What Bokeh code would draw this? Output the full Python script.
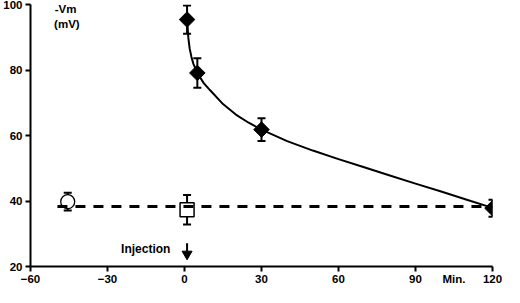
from bokeh.plotting import figure
from bokeh.models import Range1d, FixedTicker, Label, LinearAxis
from bokeh.embed import file_html
from bokeh.resources import INLINE
import math

# ---- data ----
x_ticks = [-60, -30, 0, 30, 60, 90, 120]
y_ticks = [20, 40, 60, 80, 100]
x_unit_pos = 105
x_unit_text = "Min."

# filled diamonds (treated), mean and error
treat_t = [1, 5, 30, 120]
treat_v = [95.4, 79.1, 61.8, 37.8]
treat_err = [4.3, 4.5, 3.5, 2.6]

# fitted decay curve
curve_t = [1, 1.5, 2, 2.7, 3.5, 5, 7.5, 10, 15, 20, 25, 30, 40, 50, 60, 70, 80, 90, 100, 110, 120]
curve_v = [95.4, 89.8, 86.6, 84.0, 81.8, 79.1, 76.0, 73.8, 69.6, 66.4, 63.9, 61.8, 58.3, 55.4, 52.8, 50.3, 47.8, 45.3, 42.9, 40.4, 37.9]

# open circle (pre-injection control)
circ_t = [-45.5]
circ_v = [39.8]
circ_err = [2.7]

# open square (control at injection)
sq_t = [1]
sq_v = [37.3]
sq_err = [4.5]

# dashed baseline
base_t = [-49.5, 120]
base_v = [38.3, 38.3]

# injection arrow
inj_t = [1]
arrow_top = [27.1]
arrow_bottom = [24.6]
arrow_head = [23.8]

FONT = "Liberation Sans"

p = figure(width=504, height=287, x_range=Range1d(-60, 120), y_range=Range1d(20, 100),
           output_backend="svg", toolbar_location=None,
           min_border_top=4, min_border_right=12, min_border_left=0, min_border_bottom=0)
p.outline_line_color = None
p.grid.visible = False
p.background_fill_color = "white"
p.border_fill_color = "white"

def style(ax):
    ax.axis_line_width = 2
    ax.axis_line_color = "black"
    ax.major_tick_line_width = 2
    ax.major_tick_line_color = "black"
    ax.major_tick_out = 5
    ax.major_tick_in = 0
    ax.minor_tick_out = 0
    ax.minor_tick_in = 0
    ax.minor_tick_line_color = None
    ax.major_label_text_font = FONT
    ax.major_label_text_font_style = "bold"
    ax.major_label_text_font_size = "11.5px"
    ax.major_label_text_color = "black"
    ax.major_label_standoff = 3
    ax.axis_label = None
    ax.axis_label_standoff = 0

# inner x axis: line and tick marks only
xa = p.xaxis[0]
style(xa)
xa.ticker = FixedTicker(ticks=x_ticks)
xa.major_label_overrides = {t: "" for t in x_ticks}
xa.major_label_standoff = 0
xa.major_label_text_font_size = "1px"

# outer x axis: labels only (including the unit)
xl = LinearAxis()
style(xl)
xl.ticker = FixedTicker(ticks=x_ticks + [x_unit_pos])
xl.major_label_overrides = {x_unit_pos: x_unit_text}
xl.axis_line_color = None
xl.major_tick_line_color = None
xl.major_tick_out = 0
xl.major_label_standoff = 1
p.add_layout(xl, "below")

ya = p.yaxis[0]
style(ya)
ya.ticker = FixedTicker(ticks=y_ticks)

def errbars(t, v, e):
    up = [a + b for a, b in zip(v, e)]
    lo = [a - b for a, b in zip(v, e)]
    p.segment(x0=t, y0=lo, x1=t, y1=up, line_width=2, color="black")
    return up, lo

def caps(t, up, lo):
    p.scatter(x=t + t, y=up + lo, marker="dash", size=8, line_width=2, color="black")

# open circle
cu, cl = errbars(circ_t, circ_v, circ_err)
p.scatter(x=circ_t, y=circ_v, marker="circle", size=14, fill_color="white",
          line_color="black", line_width=1.3)
caps(circ_t, cu, cl)

# open square
su, sl = errbars(sq_t, sq_v, sq_err)
p.scatter(x=sq_t, y=sq_v, marker="square", size=14, fill_color="white",
          line_color="black", line_width=1.5)
caps(sq_t, su, sl)

# dashed baseline
p.line(x=base_t, y=base_v, line_dash="10 8", line_width=3, color="black")

# curve
p.line(x=curve_t, y=curve_v, line_width=2, color="black", line_join="round")

# diamonds with error bars
tu, tl = errbars(treat_t, treat_v, treat_err)
caps(treat_t, tu, tl)
p.scatter(x=treat_t, y=treat_v, marker="square", size=11, angle=math.pi / 4,
          fill_color="black", line_color="black", line_width=1)

# injection arrow
p.segment(x0=inj_t, y0=arrow_top, x1=inj_t, y1=arrow_bottom, line_width=2, color="black")
p.scatter(x=inj_t, y=arrow_head, marker="inverted_triangle", size=10,
          fill_color="black", line_color="black")

def lab(x, y, text, align="left", size="11.5px"):
    p.add_layout(Label(x=x, y=y, text=text, text_font=FONT, text_font_style="bold",
                       text_font_size=size, text_color="black", text_align=align,
                       text_baseline="middle"))

lab(-50.6, 98.5, "-Vm")
lab(-50.8, 93.9, "(mV)")
lab(-5.5, 25.2, "Injection", align="right", size="12px")

open("out.html", "w").write(file_html(p, INLINE))
